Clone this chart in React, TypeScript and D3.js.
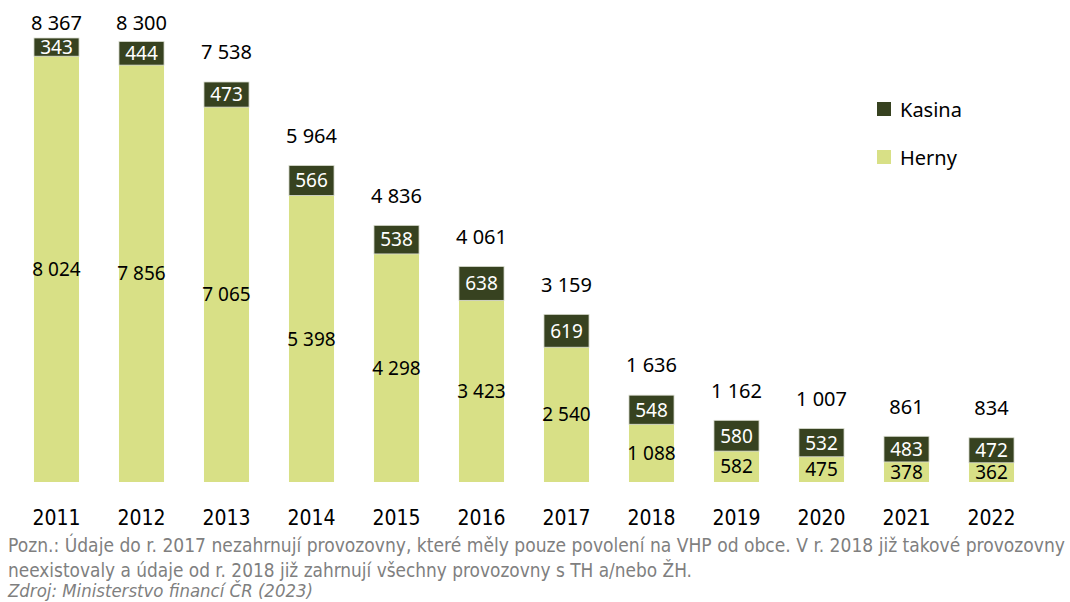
import React from 'react';
import * as d3 from 'd3';

const years = ['2011', '2012', '2013', '2014', '2015', '2016', '2017', '2018', '2019', '2020', '2021', '2022'];
const herny = [8024, 7856, 7065, 5398, 4298, 3423, 2540, 1088, 582, 475, 378, 362];
const kasina = [343, 444, 473, 566, 538, 638, 619, 548, 580, 532, 483, 472];
const totals = [8367, 8300, 7538, 5964, 4836, 4061, 3159, 1636, 1162, 1007, 861, 834];
const seriesNames = ['Kasina', 'Herny'];
const noteLines = [
  'Pozn.: Údaje do r. 2017 nezahrnují provozovny, které měly pouze povolení na VHP od obce. V r. 2018 již takové provozovny',
  'neexistovaly a údaje od r. 2018 již zahrnují všechny provozovny s TH a/nebo ŽH.',
];
const sourceLine = 'Zdroj: Ministerstvo financí ČR (2023)';

const W = 1070;
const H = 602;
const DARK = '#374220';
const LIGHT = '#d8e086';
const numFont = '"Noto Sans", "Open Sans", sans-serif';
const narrowFont = '"Liberation Sans Narrow", "DejaVu Sans Condensed", sans-serif';

const fmt = (v: number) => d3.format(',')(v).replace(/,/g, ' ');

const App: React.FC = () => {
  const baseY = 482;
  const x = d3.scaleBand<string>().domain(years).range([14, 1034]).paddingInner(0.47).paddingOuter(0.235);
  const y = d3.scaleLinear().domain([0, 8367]).range([baseY, 38]);

  const stack = d3.stack<number>().keys(['herny', 'kasina']).value((i, k) => (k === 'herny' ? herny[i] : kasina[i]));
  const layers = stack(years.map((_, i) => i));

  const colors: Record<string, string> = { herny: LIGHT, kasina: DARK };

  return (
    <svg width={W} height={H} style={{ position: 'absolute', left: 0, top: 0, background: '#fff' }}>
      {layers.map(layer => (
        <g key={layer.key}>
          {layer.map((d, i) => {
            const y0 = y(d[0]);
            const y1 = y(d[1]);
            const cx = (x(years[i]) as number) + x.bandwidth() / 2;
            const isK = layer.key === 'kasina';
            return (
              <g key={i}>
                <rect
                  x={x(years[i])}
                  y={y1}
                  width={x.bandwidth()}
                  height={y0 - y1}
                  fill={colors[layer.key]}
                  stroke={isK ? '#d9dccf' : 'none'}
                  strokeWidth={isK ? 0.8 : 0}
                />
                <text
                  x={cx}
                  y={(y0 + y1) / 2}
                  dy="0.36em"
                  textAnchor="middle"
                  fontFamily={numFont}
                  fontSize={19}
                  fill={isK ? '#ffffff' : '#000000'}
                >
                  {fmt(isK ? kasina[i] : herny[i])}
                </text>
              </g>
            );
          })}
        </g>
      ))}

      {totals.map((t, i) => (
        <text
          key={'t' + i}
          x={(x(years[i]) as number) + x.bandwidth() / 2}
          y={Math.max(y(t) - 30, 23)}
          dy="0.36em"
          textAnchor="middle"
          fontFamily={numFont}
          fontSize={20}
          fill="#000"
        >
          {fmt(t)}
        </text>
      ))}

      {years.map(yr => (
        <text
          key={'x' + yr}
          x={(x(yr) as number) + x.bandwidth() / 2}
          y={517}
          dy="0.36em"
          textAnchor="middle"
          fontFamily={narrowFont}
          fontSize={21}
          fill="#000"
        >
          {yr}
        </text>
      ))}

      {seriesNames.map((name, i) => (
        <g key={name} transform={`translate(877, ${102 + i * 48})`}>
          <rect width={14} height={14} fill={i === 0 ? DARK : LIGHT} />
          <text x={23} y={8} dy="0.36em" fontFamily={numFont} fontSize={20} fill="#000">
            {name}
          </text>
        </g>
      ))}

      {noteLines.map((line, i) => (
        <text
          key={'n' + i}
          x={8}
          y={545 + i * 25}
          dy="0.36em"
          fontFamily={narrowFont}
          fontSize={19}
          fill="#7f7f7f"
          textLength={i === 0 ? 1057 : 684}
          lengthAdjust="spacingAndGlyphs"
        >
          {line}
        </text>
      ))}
      <text
        x={8}
        y={591}
        dy="0.36em"
        fontFamily={narrowFont}
        fontSize={18}
        fontStyle="italic"
        fill="#7f7f7f"
        textLength={305}
        lengthAdjust="spacingAndGlyphs"
      >
        {sourceLine}
      </text>
    </svg>
  );
};

export default App;
